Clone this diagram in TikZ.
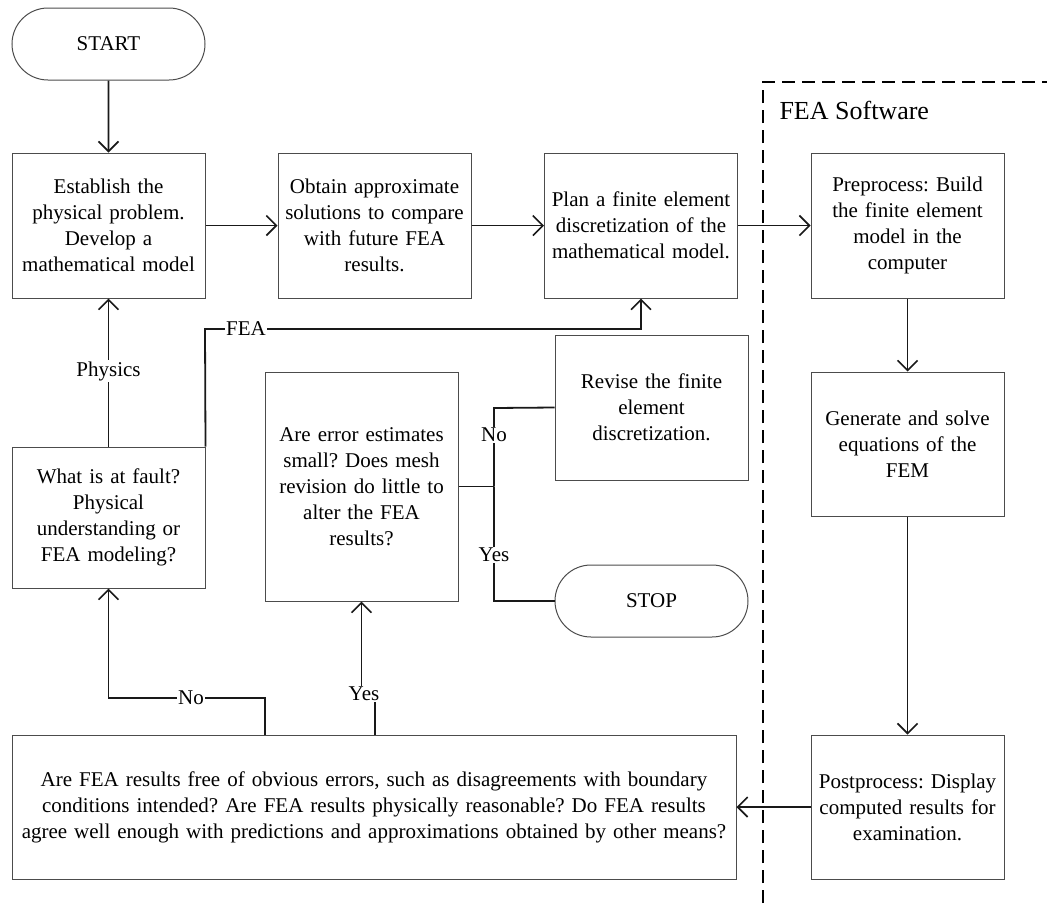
\documentclass[tikz,border=0pt]{standalone}
\usepackage{fontspec}
\setmainfont{Liberation Serif}
\usetikzlibrary{arrows.meta,shapes.misc}
\frenchspacing
\begin{document}
\begin{tikzpicture}[x=1pt,y=-1pt,
  txt/.style={font=\fontsize{21}{26}\selectfont},
  box/.style={txt, draw=black!70, line width=1pt, inner sep=0pt, align=center},
  term/.style={box, rounded rectangle},
  line/.style={line width=1.8pt, black!90},
  conn/.style={line, -{Straight Barb[length=10pt,width=20pt,line width=1.6pt]}},
  lbl/.style={txt, fill=white, inner sep=1pt}]
\useasboundingbox (0,0) rectangle (1047,903);

% FEA software region
\draw[line width=1.6pt, dash pattern=on 13pt off 7pt] (763,903) -- (763,82) -- (1047,82);
\node[font=\fontsize{26}{30}\selectfont, anchor=west] (fea) at (776,110) {FEA Software};

% nodes
\node[term, minimum width=193pt, minimum height=72pt] (start) at (108.5,44) {START};
\node[box, minimum width=193pt, minimum height=145pt, text width=185pt] (est) at (108.5,225.5)
  {Establish the\\ physical problem.\\ Develop a\\ mathematical model};
\node[box, minimum width=193pt, minimum height=145pt, text width=185pt] (obt) at (374.5,225.5)
  {Obtain approximate\\ solutions to compare\\ with future FEA\\ results.};
\node[box, minimum width=193pt, minimum height=145pt, text width=185pt] (plan) at (641,225.5)
  {Plan a finite element\\ discretization of the\\ mathematical model.};
\node[box, minimum width=193pt, minimum height=145pt, text width=185pt] (pre) at (907.5,225.5)
  {Preprocess: Build\\ the finite element\\ model in the\\ computer};
\node[box, minimum width=193pt, minimum height=144pt, text width=185pt] (gen) at (907.5,444)
  {Generate and solve\\ equations of the\\ FEM};
\node[box, minimum width=193pt, minimum height=144pt, text width=185pt] (post) at (907.5,807)
  {Postprocess: Display\\ computed results for\\ examination.};
\node[box, minimum width=724pt, minimum height=144pt, text width=715pt] (big) at (374,807)
  {Are FEA results free of obvious errors, such as disagreements with boundary\\ conditions intended? Are FEA results physically reasonable? Do FEA results\\ agree well enough with predictions and approximations obtained by other means?};
\node[box, minimum width=193pt, minimum height=141pt, text width=185pt] (fault) at (108.5,517.5)
  {What is at fault?\\ Physical\\ understanding or\\ FEA modeling?};
\node[box, minimum width=193pt, minimum height=229pt, text width=185pt] (err) at (361.5,486.5)
  {Are error estimates\\ small? Does mesh\\ revision do little to\\ alter the FEA\\ results?};
\node[box, minimum width=193pt, minimum height=145pt, text width=185pt] (rev) at (651.5,407.5)
  {Revise the finite\\ element\\ discretization.};
\node[term, minimum width=193pt, minimum height=72pt] (stop) at (651.5,601) {STOP};

% connectors
\draw[conn] (start) -- (est);
\draw[conn] (est) -- (obt);
\draw[conn] (obt) -- (plan);
\draw[conn] (plan) -- (pre);
\draw[conn] (pre) -- (gen);
\draw[conn] (gen) -- (post);
\draw[conn] (post) -- (big);

\draw[conn] (fault.north) -- (est.south);
\node[lbl] (lphys) at (108.5,371) {Physics};

\coordinate (f1) at (fault.north east);
\coordinate (f2) at (205,329);
\coordinate (f3) at (641,329);
\draw[conn] (f1) -- (f2) -- (f3) -- (plan.south);
\node[lbl] (lfea) at (246,329) {FEA};

\coordinate (b1) at (265,735);
\coordinate (b2) at (265,698);
\coordinate (b3) at (108.5,698);
\draw[conn] (b1) -- (b2) -- (b3) -- (fault.south);
\node[lbl] (lno1) at (191,698) {No};

\coordinate (y1) at (375,735);
\coordinate (y2) at (375,694);
\coordinate (y3) at (361.5,694);
\draw[conn] (y1) -- (y2) -- (y3) -- (err.south);
\node[lbl] (lyes1) at (364,694) {Yes};

\coordinate (j) at (494,486.5);
\coordinate (j1) at (494,408);
\coordinate (j2) at (494,601);
\draw[line] (err.east) -- (j);
\draw[line] (j) -- (j1) -- (rev.west);
\draw[line] (j) -- (j2) -- (stop.west);
\node[lbl] (lno2) at (494,435) {No};
\node[lbl] (lyes2) at (494,555) {Yes};
\end{tikzpicture}
\end{document}
